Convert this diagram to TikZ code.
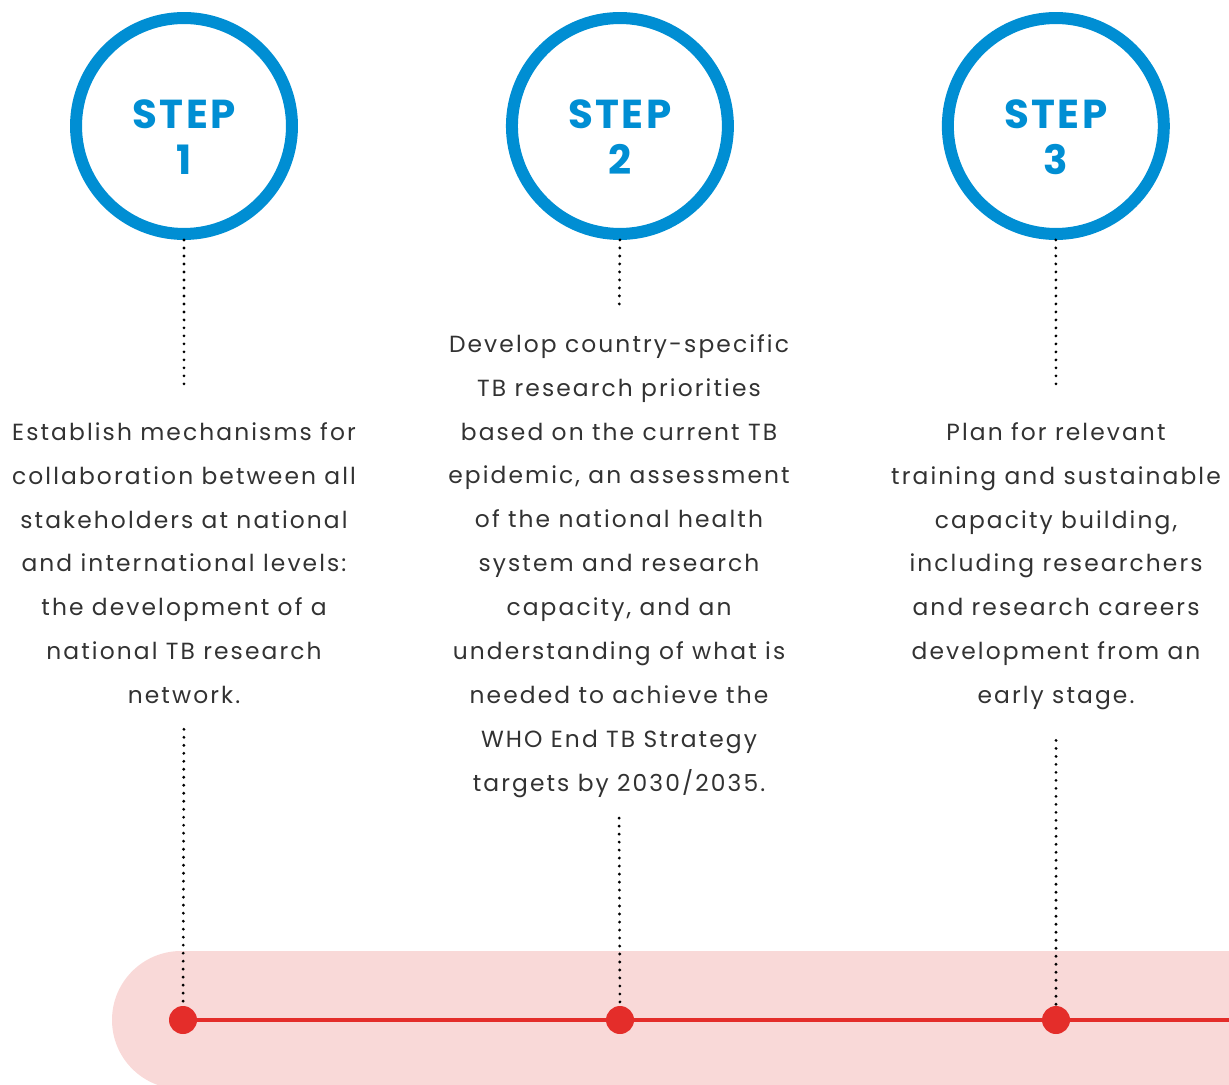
\documentclass[tikz,border=0pt]{standalone}
\usepackage{fontspec}
\setmainfont{Poppins}
\newfontfamily\stepfont[LetterSpace=6]{Poppins}
\newfontfamily\descfont[LetterSpace=9]{Poppins}
\usetikzlibrary{positioning}
\definecolor{stepblue}{RGB}{0,142,211}
\definecolor{lineRed}{RGB}{228,45,42}
\definecolor{bandpink}{RGB}{249,217,216}
\definecolor{textgray}{RGB}{50,50,50}
\tikzstyle{stepcircle} = [circle, draw=stepblue, line width=0.24cm, minimum size=4.32cm, inner sep=0pt]
\tikzstyle{steplabel} = [align=center, text=stepblue, font=\stepfont\bfseries\fontsize{23}{26}\selectfont]
\tikzstyle{stepdesc} = [align=center, anchor=north, inner sep=0pt, text=textgray, font=\descfont\fontsize{13.3}{25}\selectfont]
\tikzstyle{dotline} = [line width=1.8pt, line cap=round, dash pattern=on 0pt off 4.55pt]
\tikzstyle{reddot} = [circle, fill=lineRed, minimum size=0.56cm, inner sep=0pt]
\tikzstyle{timeline} = [lineRed, line width=0.065cm]

\begin{document}
\begin{tikzpicture}[x=0.02cm, y=-0.02cm, node distance=8.72cm]
    \clip (0,0) rectangle (1229,1084);
    % pink band behind the time line
    \fill [bandpink, rounded corners=1.38cm] (112,951) rectangle (1320,1089);

    \node (step1) [stepcircle] at (184,126) {};
    \node (step2) [stepcircle, right of=step1] {};
    \node (step3) [stepcircle, right of=step2] {};
    \node (label1) [steplabel] at ([yshift=-0.22cm]step1.center) {STEP\\1};
    \node (label2) [steplabel] at ([yshift=-0.22cm]step2.center) {STEP\\2};
    \node (label3) [steplabel] at ([yshift=-0.22cm]step3.center) {STEP\\3};

    \node (desc1) [stepdesc] at (184,422) {Establish mechanisms for\\collaboration between all\\stakeholders at national\\and international levels:\\the development of a\\national TB research\\network.};
    \node (desc2) [stepdesc] at (619,334) {Develop country-specific\\TB research priorities\\based on the current TB\\epidemic, an assessment\\of the national health\\system and research\\capacity, and an\\understanding of what is\\needed to achieve the\\WHO End TB Strategy\\targets by 2030/2035.};
    \node (desc3) [stepdesc] at (1056,422) {Plan for relevant\\training and sustainable\\capacity building,\\including researchers\\and research careers\\development from an\\early stage.};

    \node (dot1) [reddot] at (183,1020) {};
    \node (dot2) [reddot] at (620,1020) {};
    \node (dot3) [reddot] at (1056,1020) {};
    \coordinate (lineend) at (1229,1020);

    \draw [dotline, shorten >=0.64cm] (step1.south) -- (desc1.north);
    \draw [dotline, shorten >=0.58cm] (step2.south) -- (desc2.north);
    \draw [dotline, shorten >=0.64cm] (step3.south) -- (desc3.north);
    \draw [dotline, shorten <=0.5cm] (desc1.south) -- (dot1);
    \draw [dotline, shorten <=0.4cm] (desc2.south) -- (dot2);
    \draw [dotline, shorten <=0.6cm] (desc3.south) -- (dot3);

    \draw [timeline] (dot1) -- (dot2) -- (dot3) -- (lineend);
\end{tikzpicture}
\end{document}
